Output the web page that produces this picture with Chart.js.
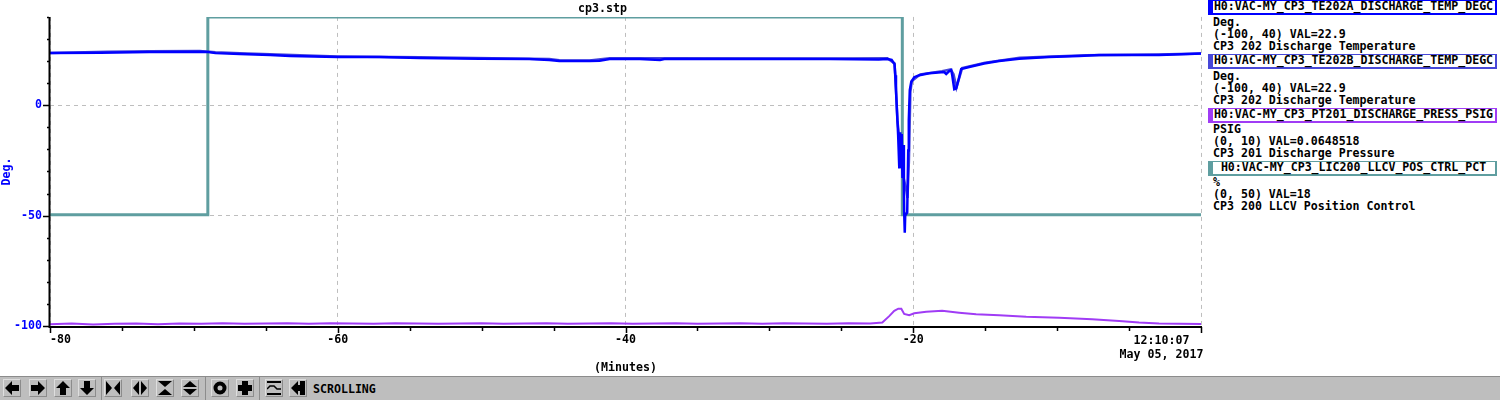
<!DOCTYPE html>
<html>
<head>
<meta charset="utf-8">
<title>cp3.stp</title>
<script src="https://cdn.jsdelivr.net/npm/chart.js@4"></script>
<style>
  html, body { margin: 0; padding: 0; background: #fff; }
  body { width: 1500px; height: 400px; position: relative; overflow: hidden; font: bold 11.6px "DejaVu Sans Mono", monospace; color: #000; }
  #chart1 { position: absolute; left: 0; top: 0; }
  .name { position: absolute; left: 1208px; width: 281px; height: 12px; line-height: 11px; background: #fff; text-align: center; border-style: solid; border-width: 1px 2px 2px 5px; padding-right: 1px; white-space: pre; }
  .info { position: absolute; left: 1213px; line-height: 12px; white-space: pre; }
  #stamp { position: absolute; left: 1110px; width: 103px; top: 333px; line-height: 14px; text-align: center; white-space: pre; }
  #toolbar { position: absolute; left: 0; top: 376px; width: 1500px; height: 24px; background: #bebebe; border-top: 1px solid #8c8c8c; box-sizing: border-box; }
  .btn { position: absolute; top: 2px; width: 18px; height: 18px; box-sizing: border-box; border: 1px solid; border-color: #dedede #8c8c8c #8c8c8c #dedede; }
  .btn svg { position: absolute; left: 1px; top: 1px; }
  .sep { position: absolute; top: 0; width: 1px; height: 24px; background: #8c8c8c; }
  #mode { position: absolute; left: 313px; top: 5px; line-height: 14px; }
</style>
</head>
<body>
<canvas id="chart1" width="1208" height="376"></canvas>
<div id="legend"></div>
<div id="stamp"></div>
<div id="toolbar"></div>
<script>
const plotTitle = 'cp3.stp';
const xTitle = '(Minutes)';
const yTitle = 'Deg.';
const stampLines = ['12:10:07', 'May 05, 2017'];
const modeLabel = 'SCROLLING';

const seriesNames = ['H0:VAC-MY_CP3_TE202A_DISCHARGE_TEMP_DEGC', 'H0:VAC-MY_CP3_TE202B_DISCHARGE_TEMP_DEGC', 'H0:VAC-MY_CP3_PT201_DISCHARGE_PRESS_PSIG', 'H0:VAC-MY_CP3_LIC200_LLCV_POS_CTRL_PCT'];
const seriesUnits = ['Deg.', 'Deg.', 'PSIG', '%'];
const seriesRanges = ['(-100, 40) VAL=22.9', '(-100, 40) VAL=22.9', '(0, 10) VAL=0.0648518', '(0, 50) VAL=18'];
const seriesText = ['CP3 202 Discharge Temperature', 'CP3 202 Discharge Temperature', 'CP3 201 Discharge Pressure', 'CP3 200 LLCV Position Control'];
const seriesColors = ['#0000ff', '#4848d8', '#a03cf5', '#5f9ea0'];

// minutes before now, values in each channel's own units
const tempATimes = [-80, -76.5, -73.1, -69.6, -69, -68.5, -66.8, -64.7, -63.3, -60, -57.1, -54.3, -50.1, -46.7, -45.3, -44.6, -42.5, -41.8, -41.1, -39, -37.6, -37.3, -25.8, -22.4, -21.8, -21.5, -21.3, -21.25, -21.2, -21.1, -21.05, -20.97, -20.9, -20.85, -20.8, -20.75, -20.7, -20.65, -20.63, -20.59, -20.56, -20.42, -20.35, -20.31, -20.24, -20.14, -19.93, -19.58, -18.89, -17.85, -17.71, -17.5, -17.36, -17.29, -17.15, -17.01, -16.81, -16.67, -16.11, -15.07, -14.03, -12.64, -10.56, -8.47, -7.08, -5, -2.92, -0.83, 0];
const tempAValues = [23.7, 23.8, 24.1, 24.2, 24.1, 23.6, 23.2, 22.7, 22.3, 21.8, 21.8, 21.4, 21.1, 20.9, 20.5, 20, 20, 20.2, 20.9, 20.9, 20.5, 20.9, 20.9, 20.7, 20.9, 20.5, 18.6, 13.6, 6.8, -6.8, -13.6, -28.6, -12.3, -28, -13, -33, -18, -38, -48.6, -57.7, -50, -48.6, -20.5, -6.8, 6.8, 10.5, 12.7, 13.6, 14.5, 15, 14.1, 15.5, 15.9, 13.6, 7.3, 7.7, 12.7, 16.4, 17.3, 18.9, 20, 21.1, 21.8, 22.3, 22.7, 22.7, 22.7, 23.2, 23.4];

const tempBTimes = [-80, -76, -73.1, -69.6, -68.5, -66.8, -64.7, -60, -54.3, -46.7, -45.3, -44.6, -42.5, -41.1, -37.3, -25.8, -21.8, -21.3, -21.2, -21.1, -20.95, -20.8, -20.7, -20.5, -20.4, -20.3, -20.2, -20.1, -19.5, -18, -17.4, -17.2, -17, -16.6, -15, -12.6, -8, -3, 0];
const tempBValues = [23.7, 24.2, 24.5, 24.6, 24, 23.6, 23.1, 22.1, 21.7, 21.1, 20.9, 20.4, 20.3, 21.3, 21.3, 21.2, 21.3, 18.9, 7, -7, -16, -27, -32, -38, -42, -25, 6, 11, 14, 15.4, 16.2, 14, 8, 16.8, 19.3, 21.5, 22.6, 23, 23.4];

const pressTimes = [-80, -78.5, -77, -75.5, -74, -72.5, -71, -69.5, -68, -66.5, -65, -63.5, -62, -60.5, -59, -57.5, -56, -54.5, -53, -51.5, -50, -48.5, -47, -45.5, -44, -42.5, -41, -39.5, -38, -36.5, -35, -33.5, -32, -30.5, -29, -27.5, -26, -24.5, -23, -22.15, -21.67, -21.32, -21.04, -20.83, -20.63, -20.28, -19.93, -19.1, -17.99, -16.81, -15.63, -14.03, -12.15, -9.86, -7.57, -5.69, -4.31, -2.92, -1.53, 0];
const pressValues = [0.06, 0.08, 0.05, 0.07, 0.08, 0.06, 0.08, 0.07, 0.09, 0.07, 0.08, 0.09, 0.07, 0.09, 0.08, 0.07, 0.09, 0.08, 0.07, 0.08, 0.09, 0.07, 0.08, 0.09, 0.07, 0.08, 0.09, 0.07, 0.08, 0.09, 0.07, 0.08, 0.09, 0.07, 0.09, 0.08, 0.07, 0.09, 0.08, 0.11, 0.32, 0.49, 0.56, 0.56, 0.39, 0.35, 0.41, 0.46, 0.49, 0.43, 0.38, 0.35, 0.3, 0.27, 0.22, 0.16, 0.11, 0.08, 0.07, 0.065];

const valveTimes = [-80, -69.03, -69.03, -20.76, -20.76, 0];
const valveValues = [18, 18, 50, 50, 18, 18];

const xLabelled = [-80, -60, -40, -20];
const yLabelled = [-100, -50, 0];

function zipPoints(times, values) {
  return times.map((t, i) => ({ x: t, y: values[i] }));
}

// ticks and the two axis lines: majors are longer than the minors
const axisTicks = {
  id: 'axisTicks',
  afterDraw(chart) {
    const c = chart.ctx;
    const a = chart.chartArea;
    c.save();
    c.strokeStyle = '#000';
    c.lineWidth = 2;
    c.beginPath();
    c.moveTo(a.left - 0.5, a.top);
    c.lineTo(a.left - 0.5, a.bottom + 2);
    c.moveTo(a.left - 0.5, a.bottom + 1);
    c.lineTo(a.right + 1, a.bottom + 1);
    c.stroke();
    c.lineWidth = 1.5;
    c.beginPath();
    chart.scales.x.ticks.forEach(t => {
      const px = Math.round(chart.scales.x.getPixelForValue(t.value)) + 0.5;
      const len = t.value % 20 === 0 ? 6 : 4;
      c.moveTo(px, a.bottom + 1);
      c.lineTo(px, a.bottom + 1 + len);
    });
    chart.scales.y.ticks.forEach(t => {
      const py = Math.round(chart.scales.y.getPixelForValue(t.value)) + 0.5;
      const len = t.value % 50 === 0 ? 6 : 2;
      c.moveTo(a.left - 1, py);
      c.lineTo(a.left - 1 - len, py);
    });
    c.stroke();
    c.restore();
  }
};

const labelFont = { family: '"DejaVu Sans Mono"', size: 11.6, weight: 'bold' };

new Chart(document.getElementById('chart1').getContext('2d'), {
  type: 'line',
  data: {
    datasets: [
      { data: zipPoints(tempATimes, tempAValues), borderColor: seriesColors[0], borderWidth: 2.5, yAxisID: 'y' },
      { data: zipPoints(tempBTimes, tempBValues), borderColor: seriesColors[1], borderWidth: 2.5, yAxisID: 'y' },
      { data: zipPoints(pressTimes, pressValues), borderColor: seriesColors[2], borderWidth: 2, yAxisID: 'yPress' },
      { data: zipPoints(valveTimes, valveValues), borderColor: seriesColors[3], borderWidth: 3, yAxisID: 'yValve', clip: 0 },
    ]
  },
  options: {
    responsive: false,
    animation: false,
    layout: { padding: { right: 3 } },
    elements: { point: { radius: 0 }, line: { tension: 0, borderJoinStyle: 'miter' } },
    plugins: {
      legend: { display: false },
      tooltip: { enabled: false },
      title: { display: true, text: plotTitle, color: '#000', font: labelFont, padding: { top: 2, bottom: 1 } },
    },
    scales: {
      x: {
        type: 'linear',
        min: -80,
        max: 0,
        afterFit(s) { s.height = 50; },
        border: { display: false, dash: [4, 4] },
        grid: { drawTicks: false, color: ctx => (ctx.tick && ctx.tick.value % 20 === 0) ? '#bebebe' : 'transparent' },
        title: { display: true, text: xTitle, color: '#000', font: labelFont, padding: { top: 0, bottom: 1 } },
        ticks: {
          stepSize: 5,
          autoSkip: false,
          maxRotation: 0,
          align: 'inner',
          padding: 7,
          color: '#000',
          font: labelFont,
          callback: v => xLabelled.includes(v) ? String(v) : '',
        },
      },
      y: {
        type: 'linear',
        min: -100,
        max: 40,
        afterFit(s) { s.width = 50; },
        border: { display: false, dash: [4, 4] },
        grid: { drawTicks: false, color: ctx => (ctx.tick && ctx.tick.value % 50 === 0) ? '#bebebe' : 'transparent' },
        title: { display: true, text: yTitle, color: '#0000ff', font: labelFont, padding: { top: 0, bottom: 0 } },
        ticks: {
          stepSize: 10,
          autoSkip: false,
          padding: 8,
          color: '#0000ff',
          font: labelFont,
          callback: v => yLabelled.includes(v) ? String(v) : '',
        },
      },
      yPress: { display: false, min: 0, max: 10 },
      yValve: { display: false, min: 0, max: 50 },
    },
  },
  plugins: [axisTicks],
});

// channel list on the right
const legendTops = [0, 54, 108, 161];
const infoTops = [16, 70, 123, 176];
const legend = document.getElementById('legend');
seriesNames.forEach((name, i) => {
  const box = document.createElement('div');
  box.className = 'name';
  box.style.top = legendTops[i] + 'px';
  box.style.borderColor = seriesColors[i];
  box.textContent = name;
  legend.appendChild(box);
  const info = document.createElement('div');
  info.className = 'info';
  info.style.top = infoTops[i] + 'px';
  info.textContent = [seriesUnits[i], seriesRanges[i], seriesText[i]].join('\n');
  legend.appendChild(info);
});

document.getElementById('stamp').textContent = stampLines.join('\n');

// toolbar
const toolbarButtons = [
  [3, '0,7 7,0 7,4 14,4 14,10 7,10 7,14'],
  [29, '14,7 7,0 7,4 0,4 0,10 7,10 7,14'],
  [54, '7,0 14,7 10,7 10,14 4,14 4,7 0,7'],
  [78, '7,14 14,7 10,7 10,0 4,0 4,7 0,7'],
  [104, '0,0 6,7 0,14 M14,0 8,7 14,14'],
  [131, '6,0 0,7 6,14 M8,0 14,7 8,14'],
  [156, '0,0 14,0 7,6 M0,14 14,14 7,8'],
  [181, '7,0 14,6 0,6 M7,14 14,8 0,8'],
  [211, 'ring'],
  [236, '4,0 10,0 10,4 14,4 14,10 10,10 10,14 4,14 4,10 0,10 0,4 4,4'],
  [265, 'wave'],
  [289, '0,7 7,0 7,4 9,4 9,0 14,0 14,14 9,14 9,10 7,10 7,14'],
];
const toolbarSeps = [101, 205, 259];

function iconMarkup(shape) {
  if (shape === 'ring') return '<circle cx="7" cy="7" r="4.5" fill="none" stroke="#000" stroke-width="4"/>';
  if (shape === 'wave') return '<rect x="0" y="0" width="14" height="2"/><rect x="0" y="12" width="14" height="2"/><path d="M0,8 L3,5 L7,5 L10,8 L14,8" fill="none" stroke="#000" stroke-width="1.5"/>';
  return shape.split(' M').map(p => '<polygon points="' + p + '"/>').join('');
}

const toolbar = document.getElementById('toolbar');
toolbarButtons.forEach(([left, shape]) => {
  const b = document.createElement('div');
  b.className = 'btn';
  b.style.left = left + 'px';
  b.innerHTML = '<svg width="14" height="14" viewBox="0 0 14 14">' + iconMarkup(shape) + '</svg>';
  toolbar.appendChild(b);
});
toolbarSeps.forEach(left => {
  const s = document.createElement('div');
  s.className = 'sep';
  s.style.left = left + 'px';
  toolbar.appendChild(s);
});
const mode = document.createElement('div');
mode.id = 'mode';
mode.textContent = modeLabel;
toolbar.appendChild(mode);
</script>
</body>
</html>
